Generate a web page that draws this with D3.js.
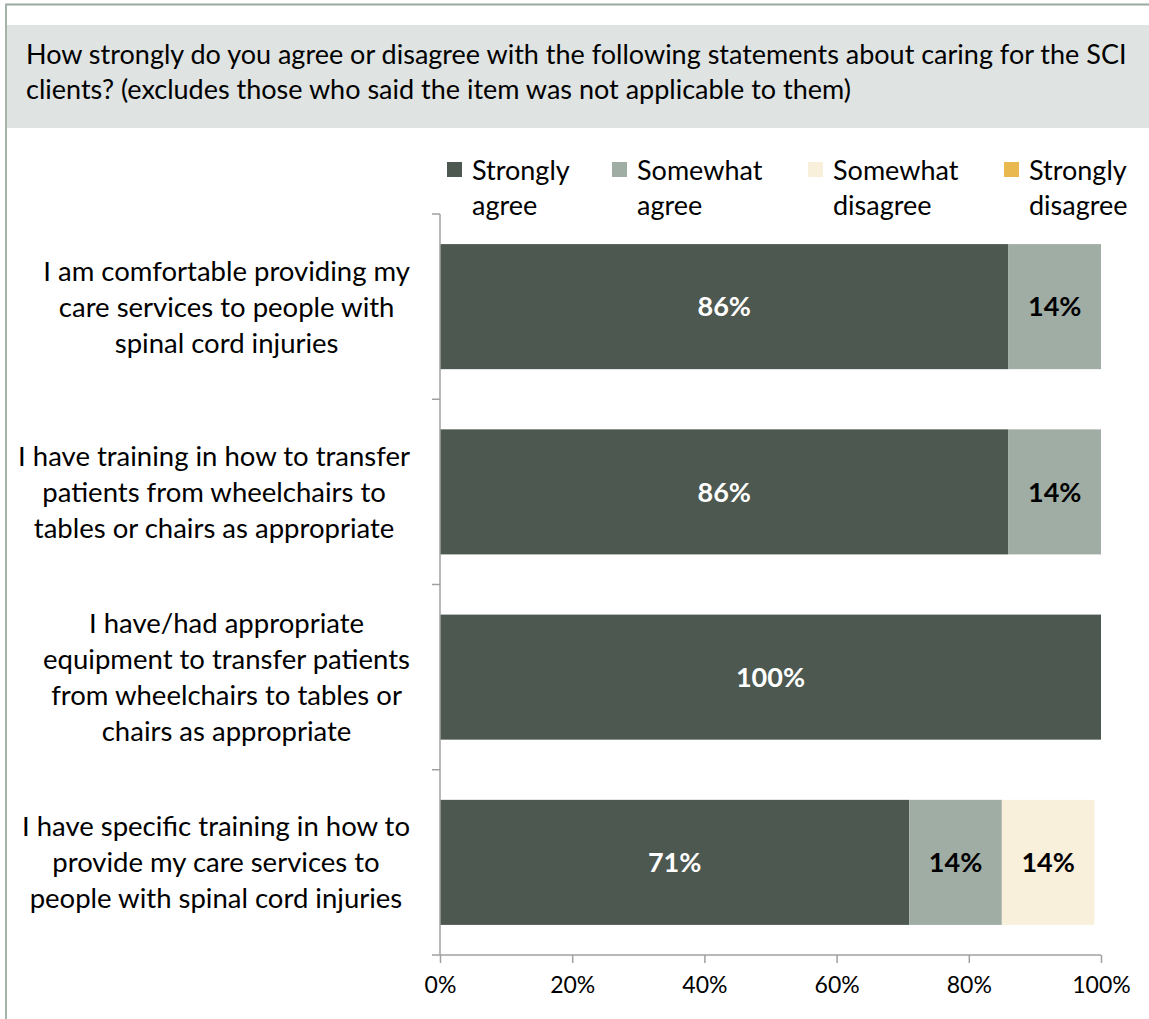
<!DOCTYPE html>
<html>
<head>
<meta charset="utf-8">
<script src="https://cdn.jsdelivr.net/npm/d3@7/dist/d3.min.js"></script>
<style>
  html, body { margin: 0; padding: 0; background: #ffffff; }
  svg { display: block; font-family: Lato, "Open Sans", sans-serif; }
</style>
</head>
<body>
<svg id="chart" width="1149" height="1019"></svg>
<script>
// Survey statements (each entry is one wrapped label, line by line)
const categories = [
  ["I am comfortable providing my", "care services to people with", "spinal cord injuries"],
  ["I have training in how to transfer", "patients from wheelchairs to", "tables or chairs as appropriate"],
  ["I have/had appropriate", "equipment to transfer patients", "from wheelchairs to tables or", "chairs as appropriate"],
  ["I have specific training in how to", "provide my care services to", "people with spinal cord injuries"]
];
const seriesNames = ["Strongly agree", "Somewhat agree", "Somewhat disagree", "Strongly disagree"];
const legendLines = [["Strongly", "agree"], ["Somewhat", "agree"], ["Somewhat", "disagree"], ["Strongly", "disagree"]];
const stronglyAgree    = [0.86, 0.86, 1.00, 0.71];
const somewhatAgree    = [0.14, 0.14, 0.00, 0.14];
const somewhatDisagree = [0.00, 0.00, 0.00, 0.14];
const stronglyDisagree = [0.00, 0.00, 0.00, 0.00];
const xTicks = [0, 0.2, 0.4, 0.6, 0.8, 1.0];
const questionLines = [
  "How strongly do you agree or disagree with the following statements about caring for the SCI",
  "clients? (excludes those who said the item was not applicable to them)"
];

const colors = ["#4d5850", "#9fada4", "#f9f0dc", "#e9b84f"];
const labelColors = ["#ffffff", "#000000", "#000000", "#000000"];

const svg = d3.select("#chart");
const W = 1149, H = 1019;
svg.append("rect").attr("width", W).attr("height", H).attr("fill", "#ffffff");

// Frame lines and question band
svg.append("line").attr("x1", 5).attr("x2", W).attr("y1", 4.5).attr("y2", 4.5)
  .attr("stroke", "#9aa9a0").attr("stroke-width", 2);
svg.append("line").attr("x1", 6).attr("x2", 6).attr("y1", 4).attr("y2", H)
  .attr("stroke", "#a3b3a9").attr("stroke-width", 2);
svg.append("rect").attr("x", 7).attr("y", 25).attr("width", W - 7).attr("height", 103)
  .attr("fill", "#dfe3e1");

const headerSize = 27;
const textSize = 27.5;
const legendSize = 27;
const valueSize = 27;
const tickSize = 23;

svg.append("g").selectAll("text").data(questionLines).join("text")
  .attr("x", 26).attr("y", (d, i) => 64 + i * 35)
  .attr("font-size", headerSize).attr("fill", "#000")
  .text(d => d);

// Scales
const x = d3.scaleLinear().domain([0, 1]).range([440, 1101]);
const y = d3.scaleBand().domain(d3.range(categories.length)).range([214, 955])
  .paddingInner(0.325).paddingOuter(0.1625);
const step = y.step();

// Stacked data
const rows = categories.map((c, i) => ({
  idx: i,
  "Strongly agree": stronglyAgree[i],
  "Somewhat agree": somewhatAgree[i],
  "Somewhat disagree": somewhatDisagree[i],
  "Strongly disagree": stronglyDisagree[i]
}));
const stacked = d3.stack().keys(seriesNames)(rows);

const layers = svg.append("g").selectAll("g").data(stacked).join("g")
  .attr("fill", (d, i) => colors[i]);
layers.selectAll("rect").data(d => d).join("rect")
  .attr("x", d => x(d[0]))
  .attr("y", d => y(d.data.idx))
  .attr("width", d => x(d[1]) - x(d[0]))
  .attr("height", y.bandwidth());

// Value labels
stacked.forEach((layer, si) => {
  svg.append("g").selectAll("text").data(layer.filter(d => d[1] - d[0] > 0)).join("text")
    .attr("x", d => (x(d[0]) + x(d[1])) / 2)
    .attr("y", d => y(d.data.idx) + y.bandwidth() / 2)
    .attr("dy", "0.36em")
    .attr("text-anchor", "middle")
    .attr("font-size", valueSize)
    .attr("font-weight", "bold")
    .attr("fill", labelColors[si])
    .text(d => Math.round((d[1] - d[0]) * 100) + "%");
});

// Axes
const axisColor = "#a0a0a0";
const xAxis = svg.append("g").attr("transform", "translate(0,955)")
  .call(d3.axisBottom(x).tickValues(xTicks).tickFormat(d3.format(".0%")).tickSize(8).tickPadding(14));
xAxis.select(".domain").attr("stroke", axisColor).attr("stroke-width", 1.5)
  .attr("d", "M440,0H1101");
xAxis.selectAll(".tick line").attr("stroke", axisColor).attr("stroke-width", 1.5);
xAxis.selectAll(".tick text").attr("font-size", tickSize).attr("fill", "#000")
  .attr("font-family", "Lato, 'Open Sans', sans-serif");

// Category axis: boundaries between statements
const bounds = d3.range(categories.length + 1).map(i => 214 + i * step);
const yAxis = svg.append("g");
yAxis.append("line").attr("x1", 440).attr("x2", 440).attr("y1", 214).attr("y2", 955)
  .attr("stroke", axisColor).attr("stroke-width", 1.5);
yAxis.selectAll("line.tk").data(bounds).join("line").attr("class", "tk")
  .attr("x1", 432).attr("x2", 440).attr("y1", d => d).attr("y2", d => d)
  .attr("stroke", axisColor).attr("stroke-width", 1.5);

// Category labels, centered as a block against the axis
const lineH = 36;
categories.forEach((lines, i) => {
  const g = svg.append("g");
  const cy = y(i) + y.bandwidth() / 2;
  const t = g.selectAll("text").data(lines).join("text")
    .attr("y", (d, j) => cy + (j - (lines.length - 1) / 2) * lineH)
    .attr("dy", "0.36em")
    .attr("text-anchor", "middle")
    .attr("font-size", textSize).attr("fill", "#000")
    .text(d => d);
  let maxW = 0;
  t.each(function () { maxW = Math.max(maxW, this.getComputedTextLength()); });
  t.attr("x", 410 - maxW / 2);
});

// Legend
const legendX = [447, 612, 808, 1004];
const lg = svg.append("g").selectAll("g").data(seriesNames).join("g")
  .attr("transform", (d, i) => `translate(${legendX[i]},0)`);
lg.append("rect").attr("x", 0).attr("y", 162).attr("width", 15).attr("height", 15)
  .attr("fill", (d, i) => colors[i]);
lg.each(function (d, i) {
  d3.select(this).selectAll("text").data(legendLines[i]).join("text")
    .attr("x", 25).attr("y", (t, j) => 170 + j * 35).attr("dy", "0.36em")
    .attr("font-size", legendSize).attr("fill", "#000")
    .text(t => t);
});
</script>
</body>
</html>
